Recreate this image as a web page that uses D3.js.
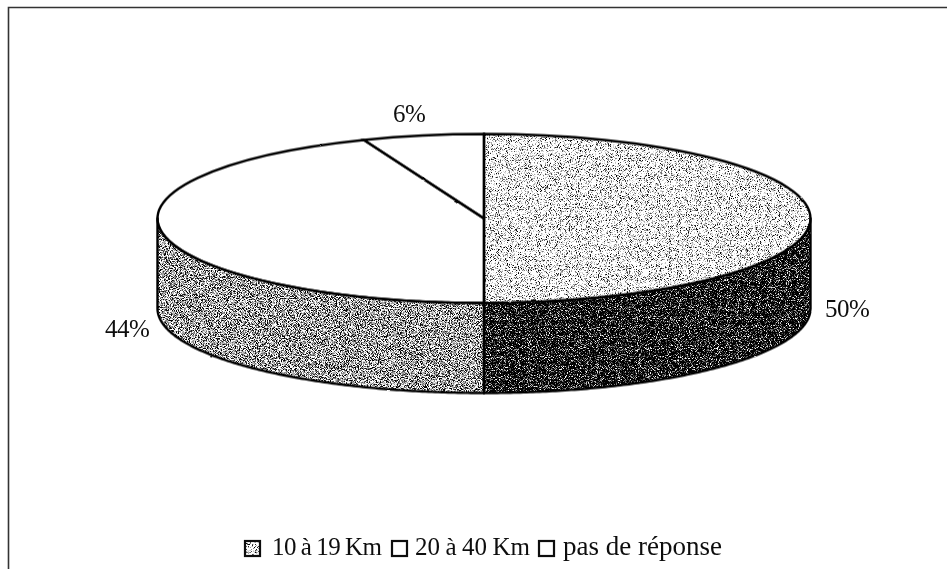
<!DOCTYPE html>
<html lang="fr">

<head>
    <meta charset="UTF-8">
    <title>Distance</title>
    <style>
        body { margin: 0; background: #fff; }
        text { font-family: "Liberation Serif", serif; fill: #111; }
    </style>
</head>

<body>
    <script src="https://d3js.org/d3.v7.min.js"></script>
    <div id="chart"></div>
    <script>
        const categories = ["10 à 19 Km", "20 à 40 Km", "pas de réponse"]
        const values = [50, 44, 6]
        const valueLabels = ["50%", "44%", "6%"]

        const WIDTH = 947
        const HEIGHT = 569
        const CX = 484, CY = 218.5, RX = 326.5, RY = 84.5, DEPTH = 90

        // one entry per slice, same order as categories
        const topFill = ["url-light", null, null]
        const wallFill = ["url-dark", "url-mid", null]
        const labelX = [825, 105, 393]
        const labelY = [317, 337, 122]
        const legendBoxX = [245, 392, 539]
        const legendTextX = [272, 415, 563]
        const legendTextW = [110, 115, 159]
        const legendFont = [25, 25, 27]
        const legendWordGap = [-1, -1, 0]

        const svg = d3.select("#chart")
            .append("svg")
            .attr("width", WIDTH)
            .attr("height", HEIGHT)
            .style("display", "block")

        const defs = svg.append("defs")

        // scanned stipple look, darker shades just shift the threshold
        const addStipple = (id, shift, seed) => {
            const f = defs.append("filter")
                .attr("id", id)
                .attr("x", "-5%").attr("y", "-5%")
                .attr("width", "110%").attr("height", "110%")
                .attr("color-interpolation-filters", "sRGB")
            f.append("feTurbulence")
                .attr("type", "fractalNoise")
                .attr("baseFrequency", 1.1)
                .attr("numOctaves", 2)
                .attr("seed", seed)
                .attr("result", "noise")
            f.append("feColorMatrix")
                .attr("in", "noise")
                .attr("type", "matrix")
                .attr("values", `4.5 0 0 0 ${shift} 4.5 0 0 0 ${shift} 4.5 0 0 0 ${shift} 0 0 0 0 1`)
                .attr("result", "hard")
            f.append("feGaussianBlur")
                .attr("in", "hard")
                .attr("stdDeviation", 0.3)
                .attr("result", "dots")
            f.append("feComposite")
                .attr("in", "dots")
                .attr("in2", "SourceAlpha")
                .attr("operator", "in")
        }
        addStipple("url-light", -1.15, 3)
        addStipple("url-mid", -1.6, 8)
        addStipple("url-dark", -2.3, 5)

        const rough = defs.append("filter")
            .attr("id", "rough")
            .attr("x", "-5%").attr("y", "-5%")
            .attr("width", "110%").attr("height", "110%")
        rough.append("feTurbulence")
            .attr("type", "fractalNoise")
            .attr("baseFrequency", 0.09)
            .attr("numOctaves", 1)
            .attr("seed", 4)
            .attr("result", "n")
        rough.append("feDisplacementMap")
            .attr("in", "SourceGraphic")
            .attr("in2", "n")
            .attr("scale", 2)
            .attr("xChannelSelector", "R")
            .attr("yChannelSelector", "G")

        const soft = defs.append("filter").attr("id", "soft")
        soft.append("feGaussianBlur").attr("stdDeviation", 0.3)

        // frame, open on the right and at the bottom like the scan
        svg.append("path")
            .attr("d", `M 8.5,${HEIGHT} V 7.5 H ${WIDTH}`)
            .attr("fill", "none")
            .attr("stroke", "#333")
            .attr("stroke-width", 1.6)

        const pie = d3.pie().sort(null).value(d => d)
        const slices = pie(values)

        const arc = d3.arc().innerRadius(0).outerRadius(RX)

        // side wall of a slice, only the front half of the ellipse can be seen
        const wallPath = (d) => {
            const a0 = Math.max(d.startAngle, Math.PI / 2)
            const a1 = Math.min(d.endAngle, 3 * Math.PI / 2)
            if (a1 <= a0) return null
            const angles = d3.range(a0, a1, 0.01).concat([a1])
            const edge = angles.map(a => [RX * Math.sin(a), -RY * Math.cos(a)])
            const lower = edge.map(p => [p[0], p[1] + DEPTH]).reverse()
            return d3.line()(edge.concat(lower)) + "Z"
        }

        const pieG = svg.append("g")
            .attr("transform", `translate(${CX}, ${CY})`)

        // fills first
        slices.forEach((d, i) => {
            const wall = wallPath(d)
            if (wall) {
                pieG.append("path")
                    .attr("d", wall)
                    .attr("fill", "#000")
                    .attr("filter", wallFill[i] ? `url(#${wallFill[i]})` : null)
            }
            const top = pieG.append("g")
            if (topFill[i]) top.attr("filter", `url(#${topFill[i]})`)
            top.append("g")
                .attr("transform", `scale(1, ${RY / RX})`)
                .append("path")
                .attr("d", arc(d))
                .attr("fill", topFill[i] ? "#000" : "#fff")
        })

        // then the outlines
        const lines = pieG.append("g").attr("filter", "url(#rough)")
        slices.forEach((d) => {
            const wall = wallPath(d)
            if (wall) {
                lines.append("path")
                    .attr("d", wall)
                    .attr("fill", "none")
                    .attr("stroke", "#000")
                    .attr("stroke-width", 2.4)
                    .attr("stroke-linejoin", "round")
            }
            lines.append("g")
                .attr("transform", `scale(1, ${RY / RX})`)
                .append("path")
                .attr("d", arc(d))
                .attr("fill", "none")
                .attr("stroke", "#000")
                .attr("stroke-width", 2.4)
                .attr("vector-effect", "non-scaling-stroke")
        })

        svg.append("g")
            .attr("filter", "url(#soft)")
            .selectAll("text")
            .data(valueLabels)
            .join("text")
            .attr("x", (d, i) => labelX[i])
            .attr("y", (d, i) => labelY[i])
            .attr("font-size", 25)
            .attr("letter-spacing", -0.5)
            .text(d => d)

        const legend = svg.append("g").attr("filter", "url(#soft)")
        categories.forEach((c, i) => {
            if (i === 0) {
                legend.append("rect")
                    .attr("x", legendBoxX[i]).attr("y", 541)
                    .attr("width", 15).attr("height", 15)
                    .attr("fill", "#000")
                    .attr("filter", "url(#url-light)")
            }
            legend.append("rect")
                .attr("x", legendBoxX[i]).attr("y", 541)
                .attr("width", 15).attr("height", 15)
                .attr("fill", "none")
                .attr("stroke", "#111")
                .attr("stroke-width", 2.2)
            legend.append("text")
                .attr("x", legendTextX[i])
                .attr("y", 555)
                .attr("font-size", legendFont[i])
                .attr("word-spacing", legendWordGap[i])
                .attr("textLength", legendTextW[i])
                .attr("lengthAdjust", "spacing")
                .text(c)
        })
    </script>
</body>

</html>
